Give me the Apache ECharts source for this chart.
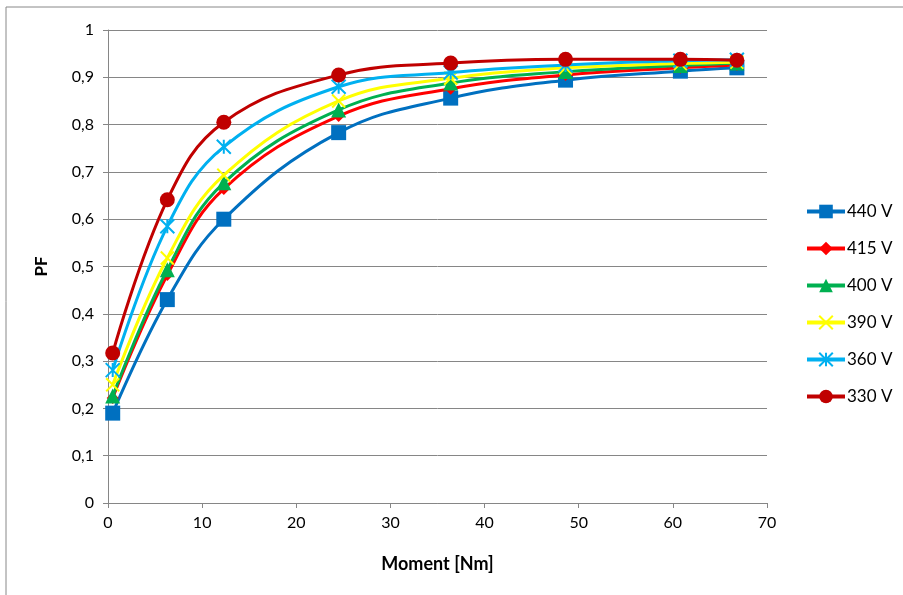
<!DOCTYPE html>
<html><head><meta charset="utf-8">
<script src="https://cdn.jsdelivr.net/npm/echarts@6/dist/echarts.min.js"></script>
<style>html,body{margin:0;padding:0;background:#fff}#c{width:903px;height:595px}</style>
</head><body><div id="c"></div>
<script>
const moment = [0.5, 6.3, 12.3, 24.5, 36.4, 48.6, 60.8, 66.8];
const v440 = [0.19, 0.43, 0.60, 0.783, 0.856, 0.894, 0.913, 0.920];
const v415 = [0.222, 0.482, 0.664, 0.818, 0.876, 0.905, 0.920, 0.926];
const v400 = [0.226, 0.493, 0.677, 0.831, 0.888, 0.912, 0.925, 0.930];
const v390 = [0.250, 0.518, 0.693, 0.850, 0.898, 0.920, 0.929, 0.932];
const v360 = [0.281, 0.585, 0.753, 0.880, 0.910, 0.926, 0.935, 0.937];
const v330 = [0.317, 0.641, 0.805, 0.905, 0.930, 0.938, 0.938, 0.936];
const seriesNames = ['440 V', '415 V', '400 V', '390 V', '360 V', '330 V'];
const xTicks = [0, 10, 20, 30, 40, 50, 60, 70];

const colors = ['#0070C0', '#FF0000', '#00B050', '#FFFF00', '#00B0F0', '#C00000'];
const xPath = 'path://M0,0L10,10M10,0L0,10';
const starPath = 'path://M0,0L10,10M10,0L0,10M5,0L5,10';
const symbols = ['rect', 'diamond', 'triangle', xPath, starPath, 'circle'];
const sizes = [15, 12, 15, 13, 14, 15];
const vals = [v440, v415, v400, v390, v360, v330];
const font = 'Lato, "Open Sans", sans-serif';

const series = vals.map((v, i) => {
  const isLine = i === 3 || i === 4;
  return {
    name: seriesNames[i],
    type: 'line',
    smooth: 0.4,
    data: moment.map((m, k) => [m, v[k]]),
    symbol: symbols[i],
    symbolSize: sizes[i],
    showAllSymbol: true,
    lineStyle: { color: colors[i], width: 3 },
    itemStyle: isLine ? { color: colors[i], borderColor: colors[i], borderWidth: 2 } : { color: colors[i], borderWidth: 0 },
    emphasis: { disabled: true },
    z: 2 + i
  };
});

const chart = echarts.init(document.getElementById('c'), null, { renderer: 'canvas' });
chart.setOption({
  animation: false,
  backgroundColor: '#fff',
  graphic: [{ type: 'rect', shape: { x: 6, y: 7, width: 1000, height: 700 }, style: { fill: 'none', stroke: '#888', lineWidth: 1 }, silent: true }],
  grid: { left: 108, right: 136, top: 30, bottom: 92, containLabel: false },
  legend: {
    orient: 'vertical', left: 800, top: 198, itemGap: 20,
    itemWidth: 38, itemHeight: 17,
    lineStyle: { width: 4 },
    textStyle: { fontFamily: font, fontSize: 17, color: '#000', padding: [0, 0, 0, -3] },
    data: seriesNames
  },
  xAxis: {
    type: 'value', min: 0, max: 70, interval: 10,
    name: 'Moment [Nm]', nameLocation: 'middle', nameGap: 52,
    nameTextStyle: { fontFamily: font, fontSize: 18, fontWeight: 'bold', color: '#000' },
    axisLine: { lineStyle: { color: '#868686', width: 1 } },
    axisTick: { show: true, length: 5, lineStyle: { color: '#868686' } },
    axisLabel: { fontFamily: font, fontSize: 16, color: '#000', margin: 12 },
    splitLine: { show: false }
  },
  yAxis: {
    type: 'value', min: 0, max: 1, interval: 0.1,
    name: 'PF', nameLocation: 'middle', nameGap: 58, nameRotate: 90,
    nameTextStyle: { fontFamily: font, fontSize: 17, fontWeight: 'bold', color: '#000' },
    axisLine: { show: true, lineStyle: { color: '#868686', width: 1 } },
    axisTick: { show: true, length: 5, lineStyle: { color: '#868686' } },
    axisLabel: { fontFamily: font, fontSize: 16, color: '#000', margin: 14,
      formatter: v => String(Math.round(v * 10) / 10).replace('.', ',') },
    splitLine: { show: true, lineStyle: { color: '#868686', width: 1 } }
  },
  series: series
});
</script></body></html>
